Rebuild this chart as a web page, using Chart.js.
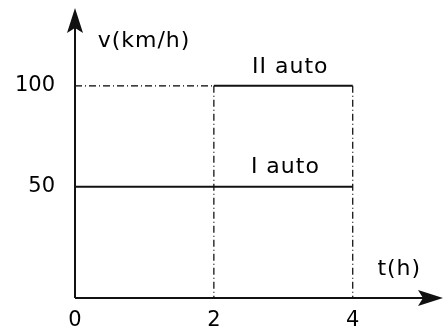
<!DOCTYPE html>
<html>
<head>
<meta charset="utf-8">
<script src="https://cdn.jsdelivr.net/npm/chart.js@4"></script>
<style>
  body { margin: 0; background: #fff; }
  #wrap { width: 446px; height: 326px; }
</style>
</head>
<body>
<div id="wrap"><canvas id="chart" width="446" height="326"></canvas></div>
<script>
// data
const tickT = [0, 2, 4];          // t(h)
const tickV = [50, 100];          // v(km/h)
const autoI_t = [0, 4];
const autoI_v = [50, 50];
const autoII_t = [2, 4];
const autoII_v = [100, 100];

const tMin = 0, tMax = 5.3;
const vMin = -5, vMax = 138.5;

const ink = '#111';
const dashDot = [7, 3, 1, 3];
const font = 'DejaVu Sans';

const toPts = (xs, ys) => xs.map((x, i) => ({ x: x, y: ys[i] }));

// dash-dot guides from the II auto line
const guideH = toPts([0, autoII_t[0]], [autoII_v[0], autoII_v[0]]);
const guideV1 = toPts([autoII_t[0], autoII_t[0]], [autoII_v[0], vMin]);
const guideV2 = toPts([autoII_t[1], autoII_t[1]], [autoII_v[1], vMin]);

const solid = (pts) => ({
    data: pts, borderColor: ink, borderWidth: 2, pointRadius: 0,
    tension: 0, fill: false
});
const guide = (pts) => ({
    data: pts, borderColor: '#000', borderWidth: 1.2, pointRadius: 0,
    borderDash: dashDot, tension: 0, fill: false
});

// no label overhang padding, the chart area is set by hand
const noPad = (s) => {
    s.paddingTop = 0; s.paddingBottom = 0;
    s.paddingLeft = 0; s.paddingRight = 0;
};

// axes with arrowheads + free text labels
const axesPlugin = {
    id: 'axesArrows',
    afterDraw(chart) {
        const { ctx, chartArea: a, scales } = chart;
        const x0 = a.left, y0 = a.bottom;
        ctx.save();
        ctx.strokeStyle = ink;
        ctx.fillStyle = ink;
        ctx.lineWidth = 2;
        ctx.beginPath();
        ctx.moveTo(x0, y0);
        ctx.lineTo(x0, a.top + 14);
        ctx.moveTo(x0, y0);
        ctx.lineTo(a.right - 14, y0);
        ctx.stroke();
        // y arrow
        ctx.beginPath();
        ctx.moveTo(x0, a.top);
        ctx.lineTo(x0 + 8, a.top + 25);
        ctx.lineTo(x0, a.top + 20);
        ctx.lineTo(x0 - 8, a.top + 25);
        ctx.closePath();
        ctx.fill();
        // x arrow
        ctx.beginPath();
        ctx.moveTo(a.right, y0);
        ctx.lineTo(a.right - 25, y0 - 8);
        ctx.lineTo(a.right - 20, y0);
        ctx.lineTo(a.right - 25, y0 + 8);
        ctx.closePath();
        ctx.fill();

        ctx.fillStyle = '#000';
        ctx.font = '22px "' + font + '"';
        ctx.letterSpacing = '1px';
        ctx.textAlign = 'center';
        ctx.textBaseline = 'middle';
        const xs = scales.x, ys = scales.y;
        ctx.fillText('v(km/h)', x0 + 69, a.top + 33);
        ctx.fillText('t(h)', xs.getPixelForValue(4.67), ys.getPixelForValue(9));
        ctx.fillText('II auto', xs.getPixelForValue(3.1), ys.getPixelForValue(109));
        ctx.fillText('I auto', xs.getPixelForValue(3.03), ys.getPixelForValue(59.5));
        ctx.restore();
    }
};

new Chart(document.getElementById('chart'), {
    type: 'line',
    data: {
        datasets: [
            solid(toPts(autoI_t, autoI_v)),
            solid(toPts(autoII_t, autoII_v)),
            guide(guideH),
            guide(guideV1),
            guide(guideV2)
        ]
    },
    options: {
        responsive: false,
        animation: false,
        layout: { padding: { top: 8, right: 3, left: 0, bottom: 0 } },
        plugins: { legend: { display: false }, tooltip: { enabled: false } },
        scales: {
            x: {
                type: 'linear', min: tMin, max: tMax,
                grid: { display: false, drawTicks: false },
                border: { display: false },
                afterBuildTicks: (s) => { s.ticks = tickT.map(v => ({ value: v })); },
                afterFit: (s) => { s.height = 28; noPad(s); },
                ticks: {
                    color: '#000', padding: 10,
                    font: { family: font, size: 21 },
                    maxRotation: 0, autoSkip: false
                }
            },
            y: {
                type: 'linear', min: vMin, max: vMax,
                grid: { display: false, drawTicks: false },
                border: { display: false },
                afterBuildTicks: (s) => { s.ticks = tickV.map(v => ({ value: v })); },
                afterFit: (s) => { s.width = 75; noPad(s); },
                ticks: {
                    color: '#000', padding: 20,
                    font: { family: font, size: 21 },
                    autoSkip: false
                }
            }
        }
    },
    plugins: [axesPlugin]
});
</script>
</body>
</html>
